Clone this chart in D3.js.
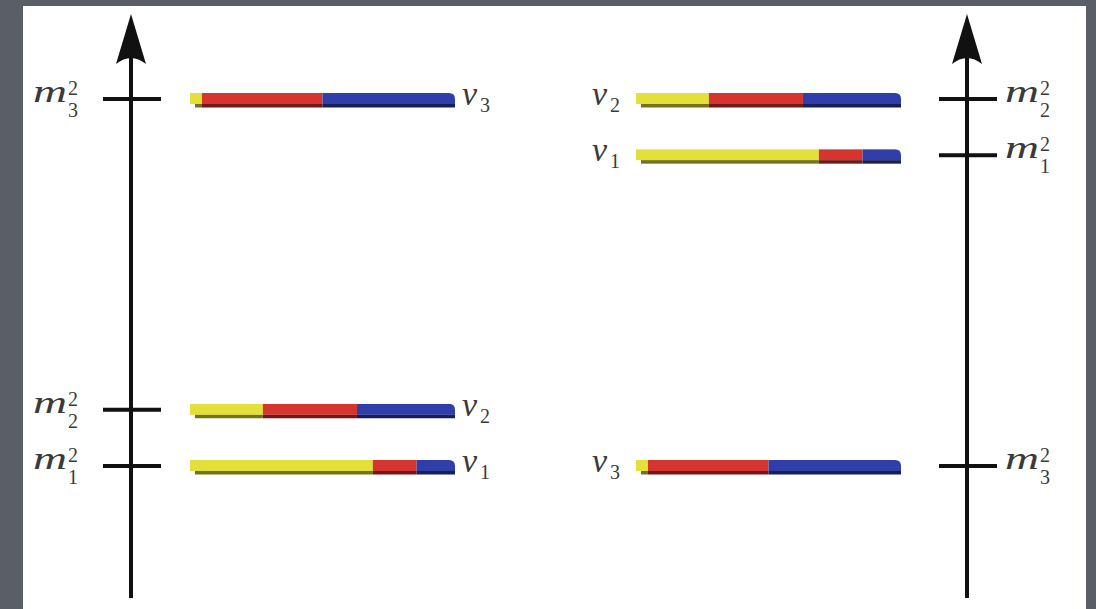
<!DOCTYPE html>
<html>
<head>
<meta charset="utf-8">
<script src="https://cdn.jsdelivr.net/npm/d3@7"></script>
<style>
  html, body { margin: 0; padding: 0; background: #5a5e66; }
  svg { display: block; }
  .lbl { fill: #3a3a3a; font-family: "Liberation Serif", "Times New Roman", serif; }
  .it { font-style: italic; }
</style>
</head>
<body>
<svg id="chart" width="1096" height="609"></svg>
<script>
// ---- data ----
const flavors = ["e", "μ", "τ"];
const states = ["1", "2", "3"];
// flavour content of each mass state (fractions of e, μ, τ)
const nu1Mix = [0.69, 0.165, 0.145];
const nu2Mix = [0.275, 0.355, 0.37];
const nu3Mix = [0.045, 0.455, 0.50];
// relative mass² level of ν1, ν2, ν3 (0 = lowest, 1 = highest)
const normalMass = [0, 0.153, 1];
const invertedMass = [0.847, 1.0, 0];
const mixes = [nu1Mix, nu2Mix, nu3Mix];

// ---- styles ----
const flavorColors = ["#e4e03a", "#d6342f", "#2f3ea8"];

const svg = d3.select("#chart");
svg.append("rect").attr("width", 1096).attr("height", 609).attr("fill", "#5a5e66");
svg.append("rect").attr("x", 23).attr("y", 6).attr("width", 1063).attr("height", 603).attr("fill", "#ffffff");

const y = d3.scaleLinear().domain([0, 1]).range([466, 99]);

const defs = svg.append("defs");

function drawPanel(opts) {
  const { axisX, mass, barRange, tickSide, id } = opts;
  const g = svg.append("g");
  const x = d3.scaleLinear().domain([0, 1]).range(barRange);

  // axis line with arrow
  g.append("line")
    .attr("x1", axisX).attr("x2", axisX)
    .attr("y1", 598).attr("y2", 45)
    .attr("stroke", "#111").attr("stroke-width", 4);
  const tipY = 14;
  g.append("path")
    .attr("d", `M${axisX},${tipY} L${axisX + 15},${tipY + 50} Q${axisX},${tipY + 38} ${axisX - 15},${tipY + 50} Z`)
    .attr("fill", "#111");

  states.forEach((s, i) => {
    const yy = y(mass[i]);
    // tick
    g.append("line")
      .attr("x1", axisX - 28).attr("x2", axisX + 30)
      .attr("y1", yy).attr("y2", yy)
      .attr("stroke", "#111").attr("stroke-width", 4);

    // m_i^2 label
    const mx = tickSide === "left" ? axisX - 98 : axisX + 38;
    const lab = g.append("g");
    lab.append("text").attr("class", "lbl it").attr("x", mx).attr("y", yy + 3)
      .attr("font-size", 31).attr("textLength", 34).attr("lengthAdjust", "spacingAndGlyphs").text("m");
    lab.append("text").attr("class", "lbl").attr("x", mx + 35).attr("y", yy - 4)
      .attr("font-size", 20).text("2");
    lab.append("text").attr("class", "lbl").attr("x", mx + 35).attr("y", yy + 18)
      .attr("font-size", 20).text(s);

    // stacked flavour bar
    const top = yy - 6, h = 11, r = 6;
    const x0 = x(0), x1 = x(1);
    const clipId = `clip-${id}-${i}`;
    defs.append("clipPath").attr("id", clipId)
      .append("path")
      .attr("d", `M${x0},${top} H${x1 - r} Q${x1},${top} ${x1},${top + r} V${top + h + 4} H${x0} Z`);
    const bar = g.append("g").attr("clip-path", `url(#${clipId})`);
    const cum = d3.cumsum(mixes[i]);
    mixes[i].forEach((v, k) => {
      const a = k === 0 ? 0 : cum[k - 1];
      const b = cum[k];
      bar.append("rect")
        .attr("x", x(a)).attr("y", top)
        .attr("width", x(b) - x(a)).attr("height", h)
        .attr("fill", flavorColors[k]);
      const sx = Math.max(x(a), x0 + 5);
      bar.append("rect")
        .attr("x", sx).attr("y", top + h)
        .attr("width", Math.max(0, x(b) - sx)).attr("height", 3.5)
        .attr("fill", d3.color(flavorColors[k]).darker(1.9));
    });

    // ν_i label
    const nx = tickSide === "left" ? x1 + 7 : x0 - 44;
    const nl = g.append("g");
    nl.append("text").attr("class", "lbl it").attr("x", nx).attr("y", yy + 6)
      .attr("font-size", 34).text("ν");
    nl.append("text").attr("class", "lbl").attr("x", nx + 18).attr("y", yy + 13)
      .attr("font-size", 20).text(s);
  });
}

drawPanel({ id: "n", axisX: 131, mass: normalMass, barRange: [190, 455], tickSide: "left" });
drawPanel({ id: "i", axisX: 967, mass: invertedMass, barRange: [636, 901], tickSide: "right" });
</script>
</body>
</html>
